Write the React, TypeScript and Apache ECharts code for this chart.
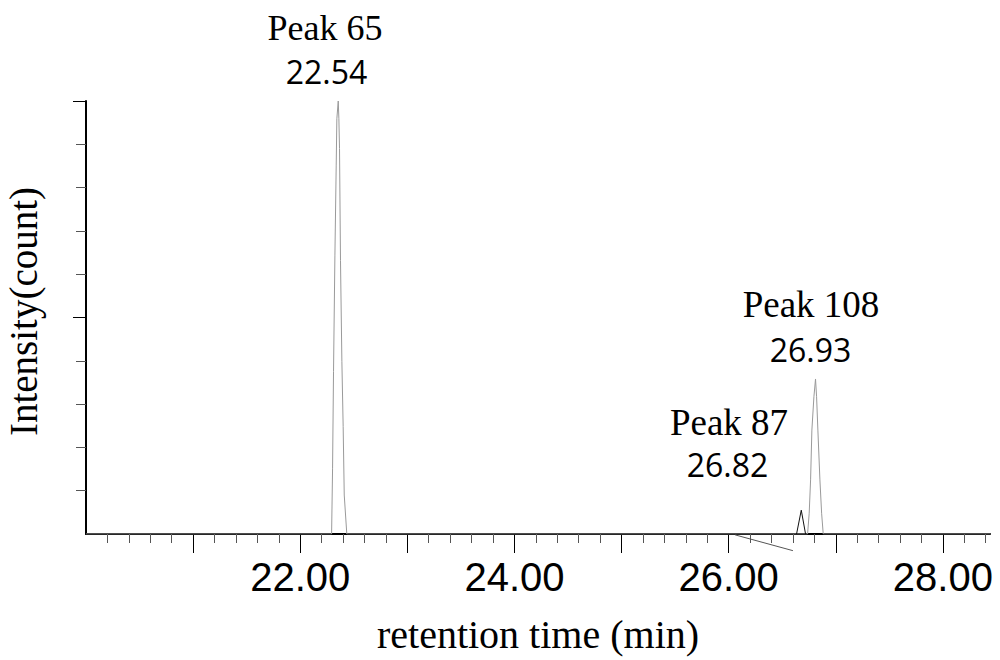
import React, { useEffect, useRef } from "react";
import * as echarts from "echarts";

// Chromatogram trace (retention time in min, relative intensity)
const traceTime = [20.0, 22.293, 22.302, 22.311, 22.324, 22.336, 22.342, 22.355, 22.361, 22.367, 22.376, 22.389, 22.401, 22.411, 22.435, 26.737, 26.752, 26.765, 26.777, 26.796, 26.811, 26.821, 26.833, 26.852, 26.868, 26.883, 28.44];
const traceIntensity = [0, 0, 15.2, 37.5, 64.4, 85.2, 95.9, 100, 95.9, 89.0, 63.2, 39.8, 24.8, 9.0, 0, 0, 4.8, 12.5, 24.0, 31.7, 35.8, 31.7, 24.0, 12.5, 4.8, 0, 0];

// Small peak 87
const peak87Time = [26.634, 26.678, 26.718];
const peak87Intensity = [0, 5.5, 0];

// Leader line under the axis
const leaderTime = [26.06, 26.6];
const leaderIntensity = [-0.2, -3.85];

// Axis ticks / labels
const xLabelValues = [22, 24, 26, 28];
const xMajorTicks = [21, 22, 23, 24, 25, 26, 27, 28];
const xMinorTicks: number[] = [];
for (let k = 101; k <= 142; k++) if (k % 5 !== 0) xMinorTicks.push(k / 5);
const yMajorTicks = [50, 100];
const yMinorTicks = [10, 20, 30, 40, 60, 70, 80, 90];

// Peak annotations
const annoTitles = ["Peak 65", "Peak 108", "Peak 87"];
const annoValues = ["22.54", "26.93", "26.82"];

const zip = (a: number[], b: number[]) => a.map((v, i) => [v, b[i]]);

export default function App() {
  const ref = useRef<HTMLDivElement>(null);
  useEffect(() => {
    if (!ref.current) return;
    const chart = echarts.init(ref.current, null, { renderer: "svg" });
    const serif = "'Liberation Serif', 'Times New Roman', serif";
    const sans = "'Liberation Sans', Arial, sans-serif";
    const valFont = "'Open Sans', 'Noto Sans', sans-serif";
    chart.setOption({
      animation: false,
      backgroundColor: "#ffffff",
      grid: { left: 86, right: 10, top: 101, bottom: 126, containLabel: false, outerBoundsMode: "none" },
      xAxis: [
        {
          type: "value",
          min: 20,
          max: 28.44,
          name: "retention time (min)",
          nameLocation: "middle",
          nameGap: 80,
          nameTextStyle: { fontFamily: serif, fontSize: 40, color: "#000" },
          axisLine: { show: true, lineStyle: { color: "#000", width: 2 } },
          axisTick: { show: true, customValues: xMajorTicks, length: 19, lineStyle: { color: "#000", width: 1 } },
          axisLabel: {
            show: true,
            customValues: xLabelValues,
            margin: 23,
            fontFamily: sans,
            fontSize: 40,
            color: "#000",
            formatter: (v: number) => v.toFixed(2),
          },
          splitLine: { show: false },
        },
        {
          type: "value",
          min: 20,
          max: 28.44,
          position: "bottom",
          axisLine: { show: false },
          axisTick: { show: true, customValues: xMinorTicks, length: 9, lineStyle: { color: "#555", width: 1 } },
          axisLabel: { show: false },
          splitLine: { show: false },
        },
      ],
      yAxis: [
        {
          type: "value",
          min: 0,
          max: 100,
          name: "Intensity(count)",
          nameLocation: "middle",
          nameGap: 43,
          nameRotate: 90,
          nameTextStyle: { fontFamily: serif, fontSize: 39, color: "#000", padding: [0, 0, 0, 12] },
          axisLine: { show: true, lineStyle: { color: "#000", width: 2 } },
          axisTick: { show: true, customValues: yMajorTicks, length: 13, lineStyle: { color: "#000", width: 1 } },
          axisLabel: { show: false },
          splitLine: { show: false },
        },
        {
          type: "value",
          min: 0,
          max: 100,
          position: "left",
          axisLine: { show: false },
          axisTick: { show: true, customValues: yMinorTicks, length: 10, lineStyle: { color: "#555", width: 1 } },
          axisLabel: { show: false },
          splitLine: { show: false },
        },
      ],
      series: [
        {
          type: "line",
          name: "trace",
          data: zip(traceTime, traceIntensity),
          showSymbol: false,
          symbol: "none",
          lineStyle: { color: "#9a9a9a", width: 1 },
        },
        {
          type: "line",
          name: "Peak 87",
          data: zip(peak87Time, peak87Intensity),
          showSymbol: false,
          symbol: "none",
          lineStyle: { color: "#111", width: 1 },
        },
        {
          type: "line",
          name: "leader",
          data: zip(leaderTime, leaderIntensity),
          showSymbol: false,
          symbol: "none",
          clip: false,
          lineStyle: { color: "#555", width: 1 },
        },
      ],
      graphic: [
        { type: "text", x: 325, y: 27.5, style: { text: annoTitles[0], font: `36px ${serif}`, fill: "#000", align: "center", verticalAlign: "middle" } },
        { type: "text", x: 326.5, y: 71, style: { text: annoValues[0], font: `32px ${valFont}`, fill: "#000", align: "center", verticalAlign: "middle" } },
        { type: "text", x: 811, y: 304.5, style: { text: annoTitles[1], font: `37px ${serif}`, fill: "#000", align: "center", verticalAlign: "middle" } },
        { type: "text", x: 810.5, y: 349.3, style: { text: annoValues[1], font: `32px ${valFont}`, fill: "#000", align: "center", verticalAlign: "middle" } },
        { type: "text", x: 729, y: 422.5, style: { text: annoTitles[2], font: `37px ${serif}`, fill: "#000", align: "center", verticalAlign: "middle" } },
        { type: "text", x: 727.5, y: 464.3, style: { text: annoValues[2], font: `32px ${valFont}`, fill: "#000", align: "center", verticalAlign: "middle" } },
      ],
    });
    return () => chart.dispose();
  }, []);
  return <div ref={ref} style={{ position: "fixed", left: 0, top: 0, width: 1000, height: 660 }} />;
}
